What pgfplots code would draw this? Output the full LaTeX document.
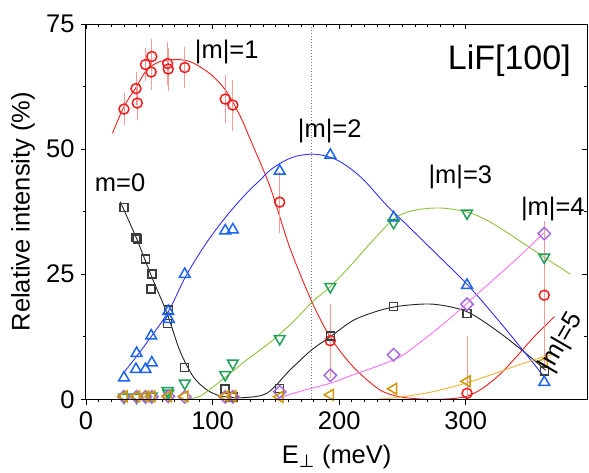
\documentclass[border=0pt]{standalone}
\usepackage{fontspec}
\setmainfont{Liberation Sans}
\newfontfamily\dejavu{DejaVu Sans}
\usepackage{pgfplots}
\usepackage{pgfplotstable}
\pgfplotsset{compat=1.18}

\definecolor{cRed}{RGB}{240,30,30}
\definecolor{cRedL}{RGB}{250,150,150}
\definecolor{cBlk}{RGB}{60,60,60}
\definecolor{cBlkL}{RGB}{35,35,35}
\definecolor{cBlu}{RGB}{25,100,240}
\definecolor{cBluL}{RGB}{50,50,255}
\definecolor{cGrn}{RGB}{30,160,90}
\definecolor{cGrnL}{RGB}{140,195,60}
\definecolor{cPur}{RGB}{165,105,225}
\definecolor{cPink}{RGB}{255,110,255}
\definecolor{cOra}{RGB}{210,150,0}
\definecolor{cOraL}{RGB}{240,180,50}

\newcommand{\tickfont}{\fontsize{25.5}{28}\selectfont}
\newcommand{\lblfont}{\fontsize{25.5}{28}\selectfont}

\pgfplotstableread{
x y e
30 58.0 2.4
39.5 62.1 2.5
40.5 59.2 2.5
47 66.9 2.5
51.5 65.4 2.7
52 68.5 2.7
64.5 67.1 3.5
65 66.0 3.5
78 66.3 3.3
110 60.0 4.0
116 58.8 4.3
153 39.4 5.3
193 11.7 6.6
301 1.2 10.6
362 20.8 14.0
}\redpts

\pgfplotstableread{
x y
30 38.3
39.5 32.3
40.5 32.0
47 28.0
52 25.0
51.5 22.0
65 17.8
64.5 15.1
78 6.4
110 2.1
116 0.5
153 2.2
193 12.7
243 18.5
301 17.1
362 5.7
}\blkpts

\pgfplotstableread{
x y
30 4.3
40 9.2
39.5 6.0
47 6.0
52 7.3
51.5 12.7
65 17.6
65.5 16.0
78 25.0
110 33.7
116 33.9
153 45.6
193 48.8
243 36.3
301 22.8
362 3.4
}\blupts

\pgfplotstableread{
x y
30 0.4
40 0.4
47 0.5
52 0.6
64.5 1.7
65 1.2
78 3.2
110 4.9
116 7.2
153 12.1
193 22.5
243 35.3
301 37.2
362 28.4
}\grnpts

\pgfplotstableread{
x y
30 0.5
40 0.5
47 0.5
52 0.5
65 0.6
78 0.5
110 0.5
116 0.5
153 1.5
193 4.8
243 8.9
301 19.0
362 33.1
}\purpts

\pgfplotstableread{
x y
30 0.6
40 0.6
47 0.6
52 0.6
65 0.6
78 0.6
110 0.6
116 0.6
153 0.5
193 0.9
243 2.1
301 3.6
362 7.5
}\orapts

\begin{document}
\begin{tikzpicture}
\begin{axis}[
  width=501.3pt, height=375.3pt, scale only axis,
  xmin=0, xmax=396, ymin=0, ymax=75,
  xtick={0,100,200,300}, minor x tick num=9,
  ytick={0,25,50,75}, minor y tick num=1,
  xtick pos=left, ytick pos=left,
  tick align=outside,
  major tick length=5.3pt, minor tick length=3pt,
  every tick/.style={black, line width=0.9pt},
  axis line style={black, line width=1pt},
  /pgf/number format/assume math mode=true,
  tick label style={font=\tickfont, inner sep=0pt},
  xticklabel style={yshift=-7pt},
  yticklabel style={xshift=-6pt},
  xlabel={E\textsubscript{\dejavu ⊥} (meV)},
  ylabel={Relative intensity (\%)},
  label style={font=\lblfont},
  xlabel style={at={(axis description cs:0.5,-0.171)}, anchor=base, inner sep=0pt},
  ylabel style={at={(axis description cs:-0.1257,0.5)}, anchor=center, inner sep=0pt},
  clip mode=individual,
]
% vertical dotted line
\addplot[gray, dotted, line width=0.9pt] coordinates {(178.4,0) (178.4,75)};

% fit curves
\addplot[cRed, line width=0.9pt, smooth] coordinates {
(21,53.2)(30,58.5)(39,62.1)(48,65.8)(58.5,67.5)(72,67.9)(82,67.5)(91,66.3)(100.6,64.5)(111,61.5)(122,56.5)(130,51.8)(145.5,42.4)(161,30.3)(178.4,19.5)(193,12.4)(211,6.5)(232,1.9)(248,0.5)(265,0.05)(280,0)(295,0.3)(305,1.0)(315,2.5)(327,5.0)(340,8.5)(354,12.5)(370,16.5)};
\addplot[cBlkL, line width=0.9pt, smooth] coordinates {
(27,39.5)(40,32.1)(52,24.4)(64,17.2)(74.3,9.6)(84.8,4.5)(95.4,1.9)(106,0.7)(121.7,0.3)(142.8,1.2)(161.3,5.9)(178.4,9.9)(193,12.5)(211.3,15.8)(232.4,17.8)(250,18.7)(274.5,19.0)(301,17.5)(327.3,13.2)(353.6,7.9)(363,5.8)};
\addplot[cBluL, line width=0.9pt, smooth] coordinates {
(29.5,5.2)(40,8.6)(50,12.0)(65,17.5)(78,24.2)(90,29.3)(100,33.0)(110,36.3)(120,39.3)(130,42.0)(137.5,43.8)(145.5,45.8)(155,47.4)(165,48.5)(178,49.0)(190,48.6)(200,47.6)(210,45.9)(220,43.7)(232,40.3)(240,38.1)(248,36.2)(275,29.5)(301.7,22.8)(330,14.5)(362,4.5)};
\addplot[cGrnL, line width=0.9pt, smooth] coordinates {
(80,0)(90,0.6)(100.6,2.5)(113,5.0)(127,7.9)(140,10.3)(150.7,12.5)(165,15.8)(178,19.3)(192.9,22.5)(210,27.0)(225,31.3)(242.9,36.0)(255,37.5)(268,38.1)(282.5,38.2)(301.7,37.4)(315,36.0)(327.3,34.2)(340,32.1)(353.6,29.8)(368,27.4)(382.6,25.0)};
\addplot[cPink, line width=0.9pt, smooth] coordinates {
(150,0)(160,0.9)(175,2.0)(192.9,3.2)(210,4.8)(230,6.6)(248.2,8.5)(265,11.6)(283,15.2)(301,19.2)(320,23.5)(340,28.0)(361.5,33.2)};
\addplot[cOraL, line width=0.9pt, smooth] coordinates {
(230,0)(250,0.5)(270,1.3)(285,2.2)(301,3.3)(320,4.9)(340,6.7)(361.5,8.5)(371,9.0)};

% markers
\addplot[only marks, mark=o, cRed, mark size=5pt, line width=1.5pt,
  error bars/.cd, y dir=both, y explicit,
  error bar style={cRedL, line width=0.9pt},
  error mark options={cRedL, mark size=4pt, line width=0.9pt}]
  table[x=x, y=y, y error=e] {\redpts};
\addplot[only marks, mark=square, cBlk, mark size=4.0pt, line width=1.5pt] table[x=x,y=y] {\blkpts};
\addplot[only marks, mark=triangle, cBlu, mark size=6.2pt, line width=1.5pt] table[x=x,y=y] {\blupts};
\addplot[only marks, mark=triangle, cGrn, mark size=6.2pt, line width=1.5pt, mark options={rotate=180}] table[x=x,y=y] {\grnpts};
\addplot[only marks, mark=square, cPur, mark size=4.4pt, line width=1.5pt, mark options={rotate=45}] table[x=x,y=y] {\purpts};
\addplot[only marks, mark=triangle, cOra, mark size=6.2pt, line width=1.5pt, mark options={rotate=90}] table[x=x,y=y] {\orapts};

% labels
\node[font=\lblfont] at (axis cs:26.9,43.2) {m=0};
\node[font=\lblfont] at (axis cs:111.2,69.5) {|m|=1};
\node[font=\lblfont] at (axis cs:192.5,53.6) {|m|=2};
\node[font=\lblfont] at (axis cs:295.7,44.5) {|m|=3};
\node[font=\lblfont] at (axis cs:368.8,38.0) {|m|=4};
\node[font=\lblfont, rotate=60, inner sep=0pt] at (axis cs:375.5,11.3) {|m|=5};
\node[font=\fontsize{34}{38}\selectfont] at (axis cs:334.4,67.6) {LiF[100]};
\end{axis}
\begin{axis}[
  width=501.3pt, height=375.3pt, scale only axis,
  xmin=0, xmax=396, ymin=0, ymax=75,
  xtick={0,100,200,300}, minor x tick num=9,
  ytick={0,25,50,75}, minor y tick num=1,
  xtick pos=right, ytick pos=right,
  tick align=inside,
  major tick length=5.3pt, minor tick length=3pt,
  every tick/.style={black, line width=0.9pt},
  axis line style={black, line width=1pt},
  xticklabels={}, yticklabels={},
]
\end{axis}
\pgfresetboundingbox
\useasboundingbox (-86pt,-72.7pt) rectangle (503pt,399.3pt);
\end{tikzpicture}
\end{document}
